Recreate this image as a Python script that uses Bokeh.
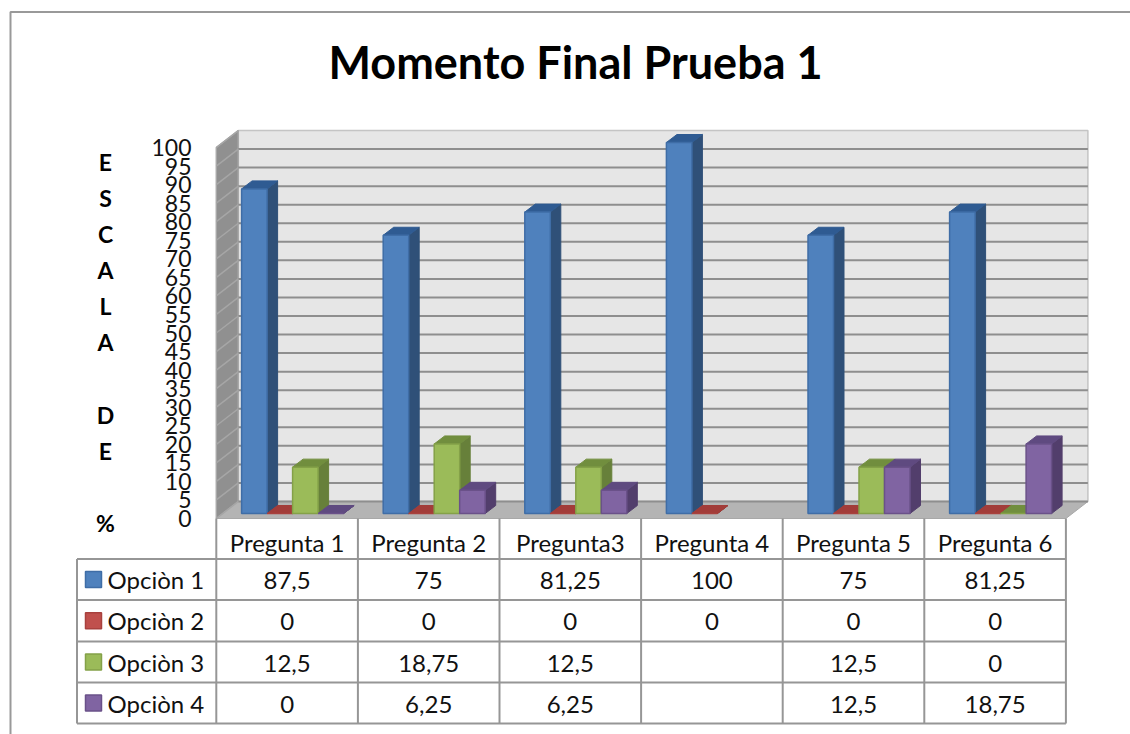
from bokeh.plotting import figure
from bokeh.embed import file_html
from bokeh.resources import INLINE
from bokeh.core.properties import value as fv

TITLE = "Momento Final Prueba 1"
AXIS_TITLE = "E\nS\nC\nA\nL\nA\n\nD\nE\n\n%"
categories = ["Pregunta 1", "Pregunta 2", "Pregunta3", "Pregunta 4", "Pregunta 5", "Pregunta 6"]
series_names = ["Opciòn 1", "Opciòn  2", "Opciòn  3", "Opciòn  4"]
opcion1 = [87.5, 75, 81.25, 100, 75, 81.25]
opcion2 = [0, 0, 0, 0, 0, 0]
opcion3 = [12.5, 18.75, 12.5, None, 12.5, 0]
opcion4 = [0, 6.25, 6.25, None, 12.5, 18.75]
y_ticks = [0, 5, 10, 15, 20, 25, 30, 35, 40, 45, 50, 55, 60, 65, 70, 75, 80, 85, 90, 95, 100]
all_series = [opcion1, opcion2, opcion3, opcion4]

front = ["#4f81bd", "#c0504d", "#9bbb59", "#8064a2"]
edge = ["#3f6da6", "#a8413e", "#84a148", "#6a5189"]
side = ["#2f5078", "#7d3230", "#67803a", "#523e6c"]
top = ["#2f5b92", "#a23c39", "#718e3e", "#5f4a80"]

# layout: page pixels -> data units
PX_PER_CAT = 141.6
PX_PER_PCT = 3.71
X0, Y0 = 215.8, 518.0


def X(px):
    return (px - X0) / PX_PER_CAT


def Y(py):
    return (Y0 - py) / PX_PER_PCT


W_DX, W_DY = 22 / PX_PER_CAT, 17 / PX_PER_PCT      # wall depth
B_DX, B_DY = 10.5 / PX_PER_CAT, 8 / PX_PER_PCT     # bar depth
BAR_W = 25.5 / PX_PER_CAT
BAR_START = 25.3 / PX_PER_CAT
BAR_BASE = 5 / PX_PER_PCT

p = figure(width=1130, height=734, output_backend="svg", toolbar_location=None,
           x_range=(X(0), X(1130)), y_range=(Y(734), Y(0)), min_border=0,
           background_fill_color="white", border_fill_color="white")
p.axis.visible = False
p.grid.visible = False
p.outline_line_color = None

FONT = fv("Lato")
GRID = "#8e8e8e"
TBL = "#969696"

# outer chart border
p.line([X(10), X(10), X(1130)], [Y(734), Y(11.5), Y(11.5)], line_color="#999999", line_width=2)

n = len(categories)
# walls and floor
p.patch([W_DX, n + W_DX, n + W_DX, W_DX], [W_DY, W_DY, 100 + W_DY, 100 + W_DY],
        fill_color="#e6e6e6", line_color="#c4c4c4", line_width=1.5)
p.patch([0, W_DX, W_DX, 0], [0, W_DY, 100 + W_DY, 100], fill_color="#909090", line_color="#a8a8a8", line_width=1.5)
p.patch([0, W_DX, n + W_DX, n], [0, W_DY, W_DY, 0], fill_color="#b4b4b4", line_color="#a8a8a8", line_width=1)

for t in y_ticks:
    if t < 100:
        p.line([W_DX, n + W_DX], [t + W_DY, t + W_DY], line_color=GRID, line_width=2)
    p.line([0, W_DX], [t, t + W_DY], line_color="#a6a6a6", line_width=1.5)
    p.text([X(191)], [t], text=[str(t)], text_font=FONT, text_font_size="23px",
           text_align="right", text_baseline="middle", text_color="#111111")

# bars
for s, vals in enumerate(all_series):
    sx, sy, tx, ty, l, r, t_, b = [], [], [], [], [], [], [], []
    for c, v in enumerate(vals):
        if v is None:
            continue
        x0 = c + BAR_START + s * BAR_W
        x1 = x0 + BAR_W
        y0 = BAR_BASE
        y1 = v + BAR_BASE
        l.append(x0); r.append(x1); b.append(y0); t_.append(y1)
        sx.append([x1, x1 + B_DX, x1 + B_DX, x1])
        sy.append([y0, y0 + B_DY, y1 + B_DY, y1])
        tx.append([x0, x0 + B_DX, x1 + B_DX, x1])
        ty.append([y1, y1 + B_DY, y1 + B_DY, y1])
    p.patches(sx, sy, fill_color=side[s], line_color=side[s], line_width=1)
    p.patches(tx, ty, fill_color=top[s], line_color=top[s], line_width=1)
    p.quad(left=l, right=r, bottom=b, top=t_, fill_color=front[s], line_color=edge[s], line_width=1.5)

# data table
ROW_TOP = [518, 558.5, 599.5, 641, 682, 723]
LEFT = X(76.5)
for i in range(1, len(ROW_TOP)):
    p.line([LEFT, n], [Y(ROW_TOP[i]), Y(ROW_TOP[i])], line_color=TBL, line_width=2)
for c in range(n + 1):
    p.line([c, c], [Y(518), Y(723)], line_color=TBL, line_width=2)
p.line([LEFT, LEFT], [Y(558.5), Y(723)], line_color=TBL, line_width=2)


def fmt(v):
    if v is None:
        return ""
    return (f"{v:g}").replace(".", ",")


for c, cat in enumerate(categories):
    p.text([c + 0.5], [Y(542)], text=[cat], text_font=FONT, text_font_size="24px",
           text_align="center", text_baseline="middle", text_color="#111111")
for s, (name, vals) in enumerate(zip(series_names, all_series)):
    yc = (ROW_TOP[s + 1] + ROW_TOP[s + 2]) / 2
    p.quad(left=[X(85)], right=[X(101)], bottom=[Y(yc + 8)], top=[Y(yc - 8)],
           fill_color=front[s], line_color=edge[s], line_width=1.5)
    p.text([X(107)], [Y(yc)], text=[name], text_font=FONT, text_font_size="24px",
           text_align="left", text_baseline="middle", text_color="#111111")
    for c, v in enumerate(vals):
        p.text([c + 0.5], [Y(yc + 1)], text=[fmt(v)], text_font=FONT, text_font_size="24px",
               text_align="center", text_baseline="middle", text_color="#111111")

# titles
p.text([X(575)], [Y(61)], text=[TITLE], text_font=FONT, text_font_size="45px", text_font_style="bold",
       text_align="center", text_baseline="middle", text_color="#000000")
p.text([X(105)], [Y(342)], text=[AXIS_TITLE], text_font=FONT, text_font_size="23px", text_font_style="bold",
       text_align="center", text_baseline="middle", text_line_height=1.29, text_color="#000000")

open("out.html", "w").write(file_html(p, INLINE))
